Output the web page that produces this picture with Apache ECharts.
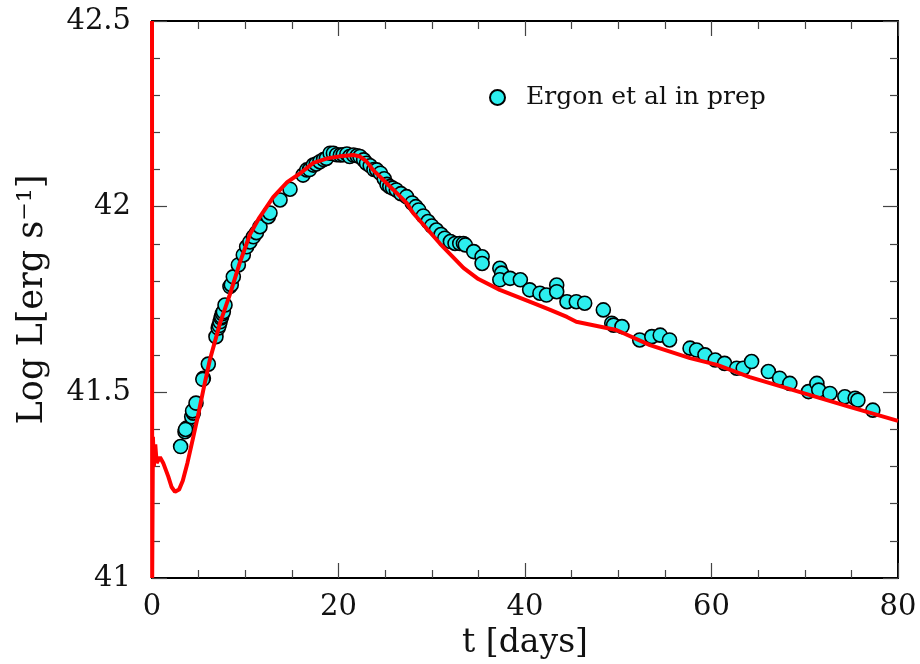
<!DOCTYPE html>
<html>
<head>
<meta charset="utf-8">
<script src="https://cdn.jsdelivr.net/npm/echarts@6/dist/echarts.min.js"></script>
<style>html,body{margin:0;padding:0;background:#fff}#c{width:920px;height:664px}</style>
</head>
<body>
<div id="c"></div>
<script>
// Observed data (Ergon et al in prep): time [days], Log L
const obsT = [3.07,3.54,3.72,3.6,4.26,4.43,4.35,4.72,5.51,5.45,6.04,6.86,7.1,7.2,7.3,7.4,7.47,7.55,7.65,7.83,8.36,8.5,8.72,9.26,9.79,10.15,10.5,10.87,11.2,11.58,12.47,12.65,13.73,14.8,16.2,16.6,16.9,17.3,17.6,18.0,18.4,18.7,19.1,19.45,19.8,20.2,20.5,20.9,21.2,21.6,22.0,22.3,22.7,23.0,23.4,23.8,24.1,24.5,24.9,25.2,25.5,25.8,26.2,26.7,27.3,27.9,28.3,28.6,29.1,29.6,30.0,30.5,31.0,31.4,32.0,32.5,33.0,33.4,33.6,34.5,35.4,35.4,37.3,37.5,37.3,38.4,39.5,40.5,41.6,42.3,43.4,43.4,44.5,45.5,46.4,48.4,49.3,49.5,50.4,52.3,53.6,54.5,55.5,57.7,58.4,59.3,60.4,61.4,62.7,63.4,64.3,66.1,67.3,68.4,70.4,71.3,71.5,72.7,74.3,75.4,75.7,77.3];
const obsL = [41.354,41.394,41.404,41.400,41.434,41.444,41.450,41.471,41.538,41.535,41.576,41.650,41.673,41.680,41.690,41.700,41.704,41.712,41.717,41.735,41.785,41.790,41.811,41.843,41.870,41.892,41.905,41.919,41.930,41.946,41.973,41.983,42.018,42.047,42.085,42.099,42.100,42.112,42.115,42.121,42.127,42.130,42.144,42.144,42.140,42.139,42.140,42.142,42.135,42.139,42.137,42.135,42.126,42.117,42.110,42.100,42.099,42.090,42.075,42.060,42.054,42.050,42.045,42.035,42.027,42.010,42.000,41.991,41.975,41.960,41.948,41.937,41.925,41.915,41.906,41.901,41.901,41.901,41.897,41.879,41.865,41.847,41.834,41.821,41.803,41.807,41.803,41.776,41.767,41.762,41.789,41.771,41.744,41.744,41.740,41.722,41.686,41.681,41.677,41.641,41.650,41.654,41.641,41.619,41.614,41.601,41.587,41.578,41.565,41.565,41.583,41.556,41.538,41.524,41.502,41.524,41.506,41.497,41.488,41.484,41.479,41.452];

// Model light curve (red line)
const modelT = [0,0.02,0.1,0.2,0.35,0.5,0.86,1.2,1.75,2.1,2.47,2.9,3.3,3.8,4.43,5.0,5.5,6.2,7.3,8.4,9.4,10.5,11.5,13.0,14.5,15.9,17.3,18.8,20.2,21.6,22.3,23.0,23.7,25.9,27.3,28.0,30.9,33.4,35.0,37.3,40.9,42.7,44.5,45.5,49.8,53.4,57.7,60.6,64.1,67.7,71.3,74.9,80.0];
const modelL = [42.5,41.0,41.38,41.30,41.36,41.31,41.325,41.31,41.273,41.245,41.232,41.238,41.262,41.31,41.38,41.445,41.506,41.587,41.687,41.767,41.848,41.925,41.97,42.026,42.066,42.09,42.118,42.13,42.136,42.139,42.135,42.122,42.099,42.045,42.01,41.983,41.90,41.835,41.805,41.776,41.74,41.722,41.703,41.69,41.668,41.627,41.592,41.574,41.541,41.514,41.487,41.46,41.423];

const xTicks = {min: 0, max: 80, interval: 20};
const yTicks = {min: 41, max: 42.5, interval: 0.5};

const FONT = '"DejaVu Serif", serif';
const obsData = obsT.map((t, i) => [t, obsL[i]]);
const modelData = modelT.map((t, i) => [t, modelL[i]]);

function xAx(pos, labels) {
  return {
    type: 'value', position: pos, min: xTicks.min, max: xTicks.max, interval: xTicks.interval,
    axisLine: {show: true, onZero: false, lineStyle: {color: '#000', width: 2}},
    axisTick: {show: true, inside: true, length: 15, lineStyle: {color: '#444', width: 1.2}},
    minorTick: {show: true, splitNumber: 4, length: 8, lineStyle: {color: '#444', width: 1.2}},
    splitLine: {show: false},
    axisLabel: {show: labels, color: '#111', fontFamily: FONT, fontSize: 29, margin: 15},
    name: labels ? 't [days]' : '', nameLocation: 'middle', nameGap: 37,
    nameTextStyle: {color: '#111', fontFamily: FONT, fontSize: 33}
  };
}
function yAx(pos, labels) {
  return {
    type: 'value', position: pos, min: yTicks.min, max: yTicks.max, interval: yTicks.interval,
    axisLine: {show: true, onZero: false, lineStyle: {color: '#000', width: 2}},
    axisTick: {show: true, inside: true, length: 15, lineStyle: {color: '#444', width: 1.2}},
    minorTick: {show: true, splitNumber: 5, length: 8, lineStyle: {color: '#444', width: 1.2}},
    splitLine: {show: false},
    axisLabel: {show: labels, color: '#111', fontFamily: FONT, fontSize: 29, margin: 21},
    name: labels ? 'Log L[erg s\u207B\u00B9]' : '', nameLocation: 'middle', nameGap: 102, nameRotate: 90,
    nameTextStyle: {color: '#111', fontFamily: FONT, fontSize: 35}
  };
}

const chart = echarts.init(document.getElementById('c'), null, {renderer: 'canvas'});
chart.setOption({
  animation: false,
  backgroundColor: '#fff',
  grid: {left: 152, right: 22, top: 21, bottom: 86, outerBoundsMode: 'none', containLabel: false},
  xAxis: [xAx('bottom', true), xAx('top', false)],
  yAxis: [yAx('left', true), yAx('right', false)],
  legend: {
    show: true, left: 484, top: 80, icon: 'circle', itemWidth: 15, itemHeight: 15, itemGap: 10,
    data: ['Ergon et al in prep'],
    textStyle: {color: '#111', fontFamily: FONT, fontSize: 25, padding: [0, 0, 0, 16]}
  },
  series: [
    {
      name: 'Ergon et al in prep', type: 'scatter', data: obsData, symbol: 'circle', symbolSize: 14,
      itemStyle: {color: '#2CEFEF', borderColor: '#000', borderWidth: 1.6, opacity: 1}, z: 2
    },
    {
      name: 'model', type: 'line', data: modelData, showSymbol: false, smooth: false, clip: false,
      lineStyle: {color: '#FF0000', width: 4}, z: 3
    }
  ]
});
</script>
</body>
</html>
